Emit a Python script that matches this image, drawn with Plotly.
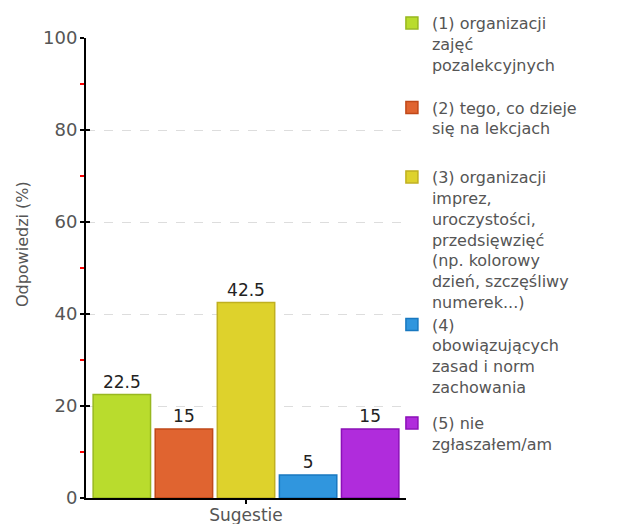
import plotly.graph_objects as go

category = "Sugestie"
labels = [
    "(1) organizacji<br>zajęć<br>pozalekcyjnych",
    "(2) tego, co dzieje<br>się na lekcjach",
    "(3) organizacji<br>imprez,<br>uroczystości,<br>przedsięwzięć<br>(np. kolorowy<br>dzień, szczęśliwy<br>numerek...)",
    "(4)<br>obowiązujących<br>zasad i norm<br>zachowania",
    "(5) nie<br>zgłaszałem/am",
]
values = [22.5, 15, 42.5, 5, 15]
fill_colors = ["#b9dc2d", "#e06430", "#ded22c", "#3096de", "#b02cdc"]
line_colors = ["#98b820", "#c04818", "#c0b020", "#1878c0", "#8c10b8"]
y_title = "Odpowiedzi (%)"

FONT = "DejaVu Sans"
legend_ys = [1.0696, 0.8859, 0.7348, 0.4141, 0.2]

fig = go.Figure()
for i, (lab, v, fc, lc) in enumerate(zip(labels, values, fill_colors, line_colors)):
    lname = "legend" if i == 0 else f"legend{i+1}"
    fig.add_trace(go.Bar(
        x=[category], y=[v], name=lab,
        marker=dict(color=fc, line=dict(color=lc, width=1.5)),
        text=[f"{v:g}"], textposition="outside",
        textfont=dict(family=FONT, size=17, color="#222222"),
        cliponaxis=False, legend=lname,
    ))

layout_legends = {}
for i, ly in enumerate(legend_ys):
    key = "legend" if i == 0 else f"legend{i+1}"
    layout_legends[key] = dict(
        x=0.956, xanchor="left", y=ly, yanchor="top",
        font=dict(family=FONT, size=16, color="#555555"),
        bgcolor="rgba(0,0,0,0)", valign="top",
        itemclick=False, itemdoubleclick=False,
    )

fig.update_layout(
    width=616, height=516,
    margin=dict(l=78, r=218, t=30, b=26, pad=0, autoexpand=False),
    paper_bgcolor="white", plot_bgcolor="white",
    barmode="group", bargap=0.03, bargroupgap=0.075,
    showlegend=True,
    font=dict(family=FONT, size=17, color="#555555"),
    xaxis=dict(
        automargin=False,
        showline=True, linecolor="black", linewidth=2,
        ticks="outside", ticklen=4, tickwidth=2, tickcolor="black",
        tickfont=dict(family=FONT, size=17, color="#555555"),
        showgrid=False, zeroline=False,
        ticklabelstandoff=-3,
    ),
    yaxis=dict(
        automargin=False,
        range=[0, 100], dtick=20,
        showline=True, linecolor="black", linewidth=2,
        ticks="outside", ticklen=4, tickwidth=2, tickcolor="black",
        tickfont=dict(family=FONT, size=18, color="#555555"),
        showgrid=True, gridcolor="#dddddd", griddash="dash", gridwidth=1,
        zeroline=False,
        minor=dict(ticks="outside", ticklen=4, tickwidth=2, tickcolor="red", dtick=10, showgrid=False),
        ticklabelstandoff=-1,
    ),
    yaxis2=dict(
        automargin=False,
        range=[0, 100], dtick=20, overlaying="y", side="left",
        showline=False, ticks="inside", ticklen=4, tickwidth=2, tickcolor="black",
        showticklabels=False, showgrid=False, zeroline=False,
    ),
    annotations=[dict(
        text=y_title, textangle=-90, xref="paper", yref="paper",
        x=-0.2, y=0.552, xanchor="center", yanchor="middle", showarrow=False,
        font=dict(family=FONT, size=16, color="#555555"),
    )],
    **layout_legends,
)

# invisible trace to activate the overlay axis (inside ticks)
fig.add_trace(go.Scatter(x=[category], y=[0], yaxis="y2", mode="markers",
                         marker=dict(opacity=0), showlegend=False, hoverinfo="skip"))

fig.write_html("out.html")
